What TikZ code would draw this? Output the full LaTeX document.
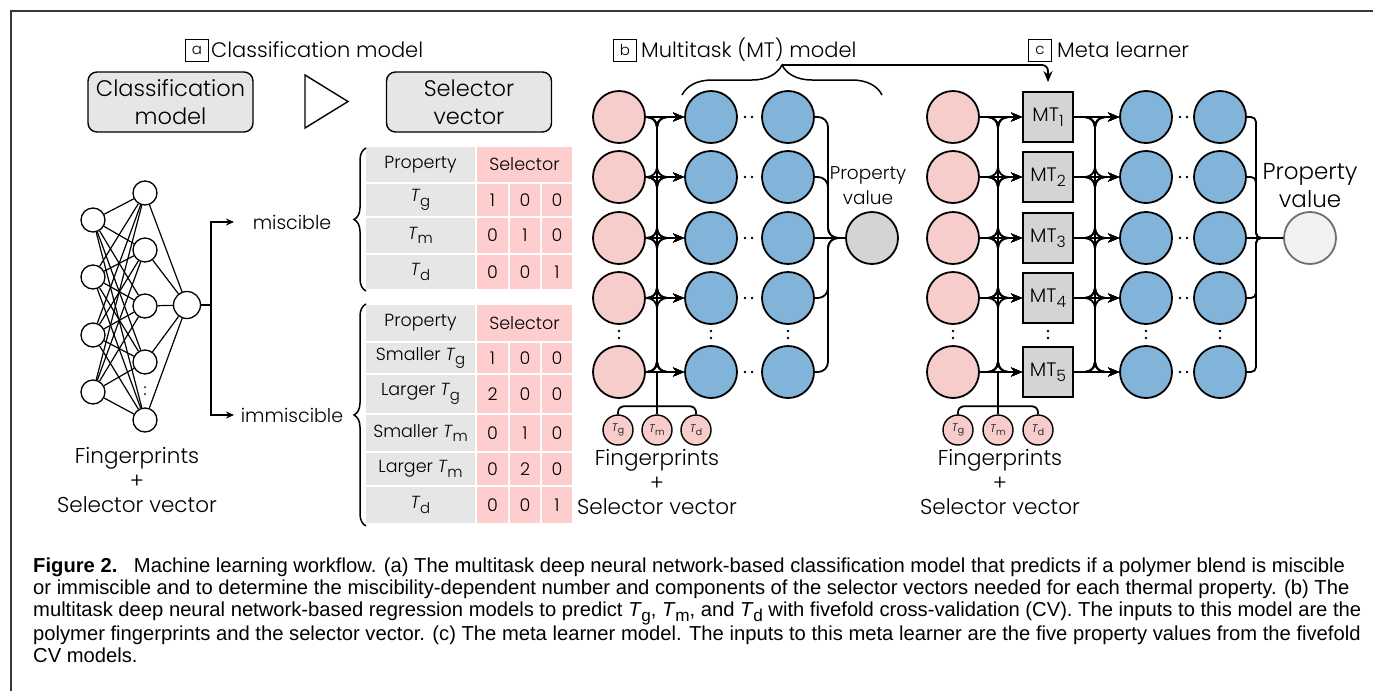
\documentclass[tikz,border=0pt]{standalone}
\usepackage{fontspec}
\setmainfont{Poppins}[UprightFont=* Light, ItalicFont=* Light Italic]
\newfontfamily\capfont{Liberation Sans}
\usetikzlibrary{arrows.meta,decorations.pathreplacing}
\definecolor{mlPink}{HTML}{F7CDCC}
\definecolor{mlBlue}{HTML}{82B4DA}
\definecolor{mlGray}{HTML}{D4D4D4}
\definecolor{mlLight}{HTML}{E6E6E6}
\definecolor{mlCell}{HTML}{FECECF}
\definecolor{mlOut}{HTML}{F2F2F2}
\definecolor{mlOutLine}{HTML}{6E6E6E}
\definecolor{mlFrame}{HTML}{383838}
\newcommand{\fsz}[2]{\fontsize{#1}{#2}\selectfont}
\newcommand{\Tsub}[1]{\textit{T}\kern-0.02em\raisebox{-0.45ex}{\scalebox{0.85}{#1}}}
\newcommand{\MTsub}[1]{MT\raisebox{-0.45ex}{\scalebox{0.8}{#1}}}

\begin{document}
\begin{tikzpicture}[
  x=1pt,
  y=-1pt,
  >={Stealth[length=11pt,width=9pt]},
  wire/.style={line width=1.8pt, rounded corners=10pt},
  feed/.style={wire, ->},
  branch/.style={line width=1.3pt, -{Stealth[length=8pt,width=7pt]}},
  netline/.style={line width=1.2pt},
  unit/.style={circle, draw, line width=1.8pt, minimum size=52pt, inner sep=0pt},
  fpnode/.style={unit, fill=mlPink},
  hidnode/.style={unit, fill=mlBlue},
  mtbox/.style={draw, line width=1.8pt, fill=mlGray, minimum width=50pt,
    minimum height=50pt, inner sep=0pt, font=\fsz{19.5}{21}},
  selnode/.style={circle, draw, line width=1.4pt, fill=mlPink, minimum size=30pt,
    inner sep=0pt, font=\fsz{11}{12}},
  netnode/.style={circle, draw, line width=1.3pt, fill=white, minimum size=24pt, inner sep=0pt},
  title/.style={anchor=west, inner sep=0pt, font=\fsz{21}{22}},
  tag/.style={draw, line width=0.9pt, minimum width=23pt, minimum height=22pt,
    inner sep=0pt, font=\fsz{15}{16}},
  roundbox/.style={draw, line width=1.4pt, rounded corners=9pt, fill=mlLight,
    minimum width=165pt, minimum height=60pt, align=center, inner sep=0pt, font=\fsz{22.5}{28}},
  note/.style={align=center, font=\fsz{21.5}{24.5}},
  cellP/.style={fill=mlLight, minimum width=109pt, inner sep=0pt, font=\fsz{17.5}{18}},
  cellS/.style={fill=mlCell, minimum width=31pt, inner sep=0pt, font=\fsz{17.5}{18}},
  curly/.style={line width=1.5pt, decorate},
  dot/.style={circle, fill, inner sep=0pt, minimum size=2.6pt}
]
\useasboundingbox (0,0) rectangle (1373,691);
\draw[line width=2.2pt, mlFrame] (11,691) -- (11,11) -- (1373,11);

% ---- (a) classification model
\node[tag]   (taga)   at (197,50)  {a};
\node[title] (titlea) at (211,50)  {Classification model};
\node[roundbox] (clsbox) at (170.5,102) {Classification\\model};
\draw[line width=1.4pt] (305,75) -- (348,101.5) -- (305,128) -- cycle;
\node[roundbox] (selbox) at (469,102) {Selector\\vector};

\foreach \n/\y in {1/220,2/277,3/335,4/392}
  \node[netnode] (in\n) at (93,\y) {};
\foreach \n/\y in {1/193,2/250,3/306,4/362,5/420}
  \node[netnode] (hd\n) at (145,\y) {};
\node[netnode, minimum size=27pt] (aout) at (187,305) {};
\foreach \i in {1,...,4}
  \foreach \j in {1,...,5}
    \draw[netline] (in\i) -- (hd\j);
\foreach \j in {1,...,5}
  \draw[netline] (hd\j) -- (aout);
\node[dot, minimum size=2pt] (hddot1) at (145,387) {};
\node[dot, minimum size=2pt] (hddot2) at (145,394) {};

\coordinate (misarr) at (234,222);
\coordinate (immarr) at (234,415);
\draw[branch] (aout.east) -- (211,305) |- (misarr);
\draw[branch] (aout.east) -- (211,305) |- (immarr);
\node[font=\fsz{19}{20}] (mislbl) at (292,222) {miscible};
\node[font=\fsz{19}{20}] (immlbl) at (292,415) {immiscible};
\node[note] (fpa) at (137,480) {Fingerprints\\+\\Selector vector};

% selector tables
\node[cellP, minimum height=35pt] (mhp) at (420.5,164.5) {Property};
\node[cellS, minimum width=95pt, minimum height=35pt] (mhs) at (524.5,164.5) {Selector};
\foreach \r/\y/\h/\lab/\a/\b/\c in {1/200/32/{\Tsub{g}}/1/0/0,
    2/235.5/35/{\Tsub{m}}/0/1/0, 3/272/34/{\Tsub{d}}/0/0/1} {
  \node[cellP, minimum height=\h pt] (m\r-p) at (420.5,\y) {\lab};
  \node[cellS, minimum height=\h pt] (m\r-a) at (492.5,\y) {\a};
  \node[cellS, minimum height=\h pt, minimum width=30pt] (m\r-b) at (525,\y) {\b};
  \node[cellS, minimum height=\h pt, minimum width=30pt] (m\r-c) at (557,\y) {\c};
}
\node[cellP, minimum height=36pt] (ihp) at (420.5,323) {Property};
\node[cellS, minimum width=95pt, minimum height=36pt] (ihs) at (524.5,323) {Selector};
\foreach \r/\y/\h/\lab/\a/\b/\c in {1/358/30/{Smaller \Tsub{g}}/1/0/0,
    2/394/38/{Larger \Tsub{g}}/2/0/0, 3/433/36/{Smaller \Tsub{m}}/0/1/0,
    4/469/32/{Larger \Tsub{m}}/0/2/0, 5/505/36/{\Tsub{d}}/0/0/1} {
  \node[cellP, minimum height=\h pt] (i\r-p) at (420.5,\y) {\lab};
  \node[cellS, minimum height=\h pt] (i\r-a) at (492.5,\y) {\a};
  \node[cellS, minimum height=\h pt, minimum width=30pt] (i\r-b) at (525,\y) {\b};
  \node[cellS, minimum height=\h pt, minimum width=30pt] (i\r-c) at (557,\y) {\c};
}
\draw[curly, decoration={brace, amplitude=12pt}] (366,291) -- (366,148);
\draw[curly, decoration={brace, amplitude=12pt}] (366,526) -- (366,304);

% ---- (b) multitask model
\node[tag]   (tagb)   at (625,50) {b};
\node[title] (titleb) at (641,50) {Multitask (MT) model};
\foreach \r/\y in {1/117,2/177,3/238,4/298,5/372} {
  \node[fpnode]  (bp\r) at (619,\y) {};
  \node[hidnode] (bh\r) at (711,\y) {};
  \node[hidnode] (bo\r) at (788,\y) {};
  \node[dot] (bdl\r) at (745,\y) {};
  \node[dot] (bdr\r) at (752,\y) {};
}
\foreach \x in {619,711,788} {
  \node[dot] at (\x,331) {};
  \node[dot] at (\x,338) {};
}
\node[unit, fill=mlGray] (bout) at (872,238) {};
\node[align=center, font=\fsz{18.5}{25}] (bval) at (868,186) {Property\\value};
\node[selnode] (bsg) at (618,430) {\Tsub{g}};
\node[selnode] (bsm) at (657,430) {\Tsub{m}};
\node[selnode] (bsd) at (696,430) {\Tsub{d}};
\node[note] (fpb) at (657,482) {Fingerprints\\+\\Selector vector};

\foreach \i/\yi in {1/117,2/177,3/238,4/298,5/372}
  \foreach \j/\yj in {1/117,2/177,3/238,4/298,5/372} {
    \ifnum\i=\j
      \draw[feed] (bp\i) -- (bh\j);
    \else
      \draw[feed] (bp\i.east) -- (657,\yi) -- (657,\yj) -- (bh\j.west);
    \fi
  }
\draw[wire] (bsm.north) -- (657,372);
\draw[wire, rounded corners=6pt] (bsg.north) -- ++(0,-8) -| (bsd.north);
\foreach \j/\yj in {1/117,2/177,4/298,5/372}
  \draw[wire] (bo\j.east) -- (828,\yj) -- (828,238) -- (bout.west);
\draw[wire] (bo3) -- (bout);

\draw[curly, decoration={brace, amplitude=30pt}] (682,95) -- (882,95);
\coordinate (bracetip) at (782,65);

% ---- (c) meta learner
\node[tag]   (tagc)   at (1040,50) {c};
\node[title] (titlec) at (1057,50) {Meta learner};
\foreach \r/\y in {1/117,2/177,3/238,4/298,5/372} {
  \node[fpnode]  (cp\r) at (953,\y) {};
  \node[mtbox]   (cm\r) at (1048,\y) {\MTsub{\r}};
  \node[hidnode] (ch\r) at (1146,\y) {};
  \node[hidnode] (co\r) at (1220,\y) {};
  \node[dot] (cdl\r) at (1180,\y) {};
  \node[dot] (cdr\r) at (1187,\y) {};
}
\foreach \x in {953,1048,1146,1220} {
  \node[dot] at (\x,331) {};
  \node[dot] at (\x,338) {};
}
\node[unit, fill=mlOut, draw=mlOutLine] (cout) at (1310,238) {};
\node[align=center, font=\fsz{23}{28}] (cval) at (1310,186) {Property\\value};
\node[selnode] (csg) at (958,430) {\Tsub{g}};
\node[selnode] (csm) at (998,430) {\Tsub{m}};
\node[selnode] (csd) at (1038,430) {\Tsub{d}};
\node[note] (fpc) at (1000,482) {Fingerprints\\+\\Selector vector};

\foreach \i/\yi in {1/117,2/177,3/238,4/298,5/372}
  \foreach \j/\yj in {1/117,2/177,3/238,4/298,5/372} {
    \ifnum\i=\j
      \draw[feed] (cp\i) -- (cm\j);
      \draw[feed] (cm\i) -- (ch\j);
    \else
      \draw[feed] (cp\i.east) -- (998,\yi) -- (998,\yj) -- (cm\j.west);
      \draw[feed] (cm\i.east) -- (1095,\yi) -- (1095,\yj) -- (ch\j.west);
    \fi
  }
\draw[wire] (csm.north) -- (998,372);
\draw[wire, rounded corners=6pt] (csg.north) -- ++(0,-8) -| (csd.north);
\foreach \j/\yj in {1/117,2/177,4/298,5/372}
  \draw[wire, rounded corners=5pt] (co\j.east) -- (1256,\yj) -- (1256,238) -- (cout.west);
\draw[wire] (co3) -- (cout);

\draw[feed, rounded corners=6pt] (bracetip) -| ([yshift=9pt]cm1.north);

% ---- caption
\node[anchor=north west, inner sep=0pt, align=left, font=\capfont\fsz{20.2}{22}] (caption) at (33,558)
  {\textbf{Figure 2.}\hspace{0.45em} Machine learning workflow. (a) The multitask deep neural network-based classification model that predicts if a polymer blend is miscible\\
   or immiscible and to determine the miscibility-dependent number and components of the selector vectors needed for each thermal property. (b) The\\
   multitask deep neural network-based regression models to predict \Tsub{g}, \Tsub{m}, and \Tsub{d} with fivefold cross-validation (CV). The inputs to this model are the\\
   polymer fingerprints and the selector vector. (c) The meta learner model. The inputs to this meta learner are the five property values from the fivefold\\
   CV models.};
\end{tikzpicture}
\end{document}
